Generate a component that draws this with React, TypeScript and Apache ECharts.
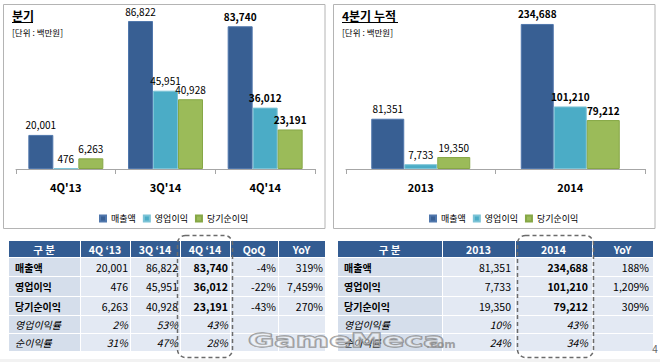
import React, { useEffect, useRef } from "react";
import * as echarts from "echarts";

// ---------- data ----------
const quarterCats = ["4Q'13", "3Q'14", "4Q'14"];
const yearCats = ["2013", "2014"];
const seriesNames = ["매출액", "영업이익", "당기순이익"];

const revenueQ = [20001, 86822, 83740];
const opProfitQ = [476, 45951, 36012];
const netProfitQ = [6263, 40928, 23191];
const qoqPct = [-4, -22, -43];
const yoyPctQ = [319, 7459, 270];
const opMarginQ = [2, 53, 43];
const netMarginQ = [31, 47, 28];

const revenueY = [81351, 234688];
const opProfitY = [7733, 101210];
const netProfitY = [19350, 79212];
const yoyPctY = [188, 1209, 309];
const opMarginY = [10, 43];
const netMarginY = [24, 34];

const quarterHeader = ["구 분", "4Q ‘13", "3Q ‘14", "4Q ‘14", "QoQ", "YoY"];
const yearHeader = ["구 분", "2013", "2014", "YoY"];
const marginNames = ["영업이익률", "순이익률"];

const titleQ = "분기";
const titleY = "4분기 누적";
const unitText = "[단위 : 백만원]";

// ---------- styles ----------
const FONT = '"Noto Sans CJK KR", "Noto Sans", sans-serif';
const BAR_COLORS = ["#385F93", "#4BACC6", "#9BBB59"];
const BAR_BORDERS = ["#5077AC", "#7CC3D6", "#86A746"];
const HEADER_BG = "#335C92";
const COL0_BG = "#D5DEEB";
const CELL_BG = "#E3E9F3";

const fmt = (n: number) => n.toLocaleString("en-US");
const pct = (n: number) => fmt(n) + "%";

type Row = { cells: string[]; italic: boolean };

function tableGraphics(
  colX: number[],
  rowY: number[],
  header: string[],
  rows: Row[],
  boldCol: number,
  pad: number
) {
  const els: any[] = [];
  header.forEach((h, c) => {
    els.push({
      type: "rect",
      shape: { x: colX[c] + 1, y: rowY[0], width: colX[c + 1] - colX[c] - 1, height: rowY[1] - rowY[0] - 1 },
      style: { fill: HEADER_BG },
    });
    els.push({
      type: "text",
      style: {
        text: h,
        x: (colX[c] + colX[c + 1]) / 2,
        y: (rowY[0] + rowY[1]) / 2,
        align: "center",
        verticalAlign: "middle",
        fill: "#fff",
        fontWeight: "bold",
        fontSize: 10.5,
        fontFamily: FONT,
      },
    });
  });
  rows.forEach((row, r) => {
    const y0 = rowY[r + 1];
    const y1 = rowY[r + 2];
    row.cells.forEach((cell, c) => {
      els.push({
        type: "rect",
        shape: { x: colX[c] + 1, y: y0, width: colX[c + 1] - colX[c] - 1, height: y1 - y0 - 1 },
        style: { fill: c === 0 ? COL0_BG : CELL_BG },
      });
      if (!cell) return;
      const bold = !row.italic && (c === 0 || c === boldCol);
      els.push({
        type: "text",
        style: {
          text: cell,
          x: c === 0 ? colX[c] + 7 : colX[c + 1] - pad,
          y: (y0 + y1) / 2 - 0.5,
          align: c === 0 ? "left" : "right",
          verticalAlign: "middle",
          fill: "#000",
          fontWeight: bold ? "bold" : "normal",
          fontStyle: row.italic ? "italic" : "normal",
          fontSize: c === 0 ? 10 : 10.5,
          fontFamily: FONT,
        },
      });
    });
  });
  return els;
}

function barSeries(
  name: string,
  values: number[],
  idx: number,
  axisIdx: number,
  boldIdx: number,
  barWidth: number
) {
  return {
    type: "bar",
    name,
    xAxisIndex: axisIdx,
    yAxisIndex: axisIdx,
    barWidth,
    barGap: "0%",
    itemStyle: { color: BAR_COLORS[idx], borderColor: BAR_BORDERS[idx], borderWidth: 1 },
    label: {
      show: true,
      position: "top",
      distance: 5,
      fontSize: 10,
      fontFamily: FONT,
      color: "#000",
      formatter: (p: any) => fmt(p.value),
    },
    data: values.map((v, i) => ({
      value: v,
      label: { fontWeight: i === boldIdx ? "bold" : "normal" },
    })),
  };
}

function panelGraphics(x: number, title: string, underlineW: number) {
  return [
    {
      type: "rect",
      shape: { x: x + 0.5, y: 4.5, width: 321.5, height: 224 },
      style: { fill: "#fff", stroke: "#B4B4B4", lineWidth: 1 },
      z: -10,
    },
    {
      type: "text",
      style: {
        text: title,
        x: x + 9,
        y: 15,
        verticalAlign: "middle",
        fill: "#000",
        fontWeight: "bold",
        fontSize: 12,
        fontFamily: FONT,
      },
    },
    {
      type: "line",
      shape: { x1: x + 9, y1: 22.5, x2: x + 9 + underlineW, y2: 22.5 },
      style: { stroke: "#000", lineWidth: 1 },
    },
    {
      type: "text",
      style: {
        text: unitText,
        x: x + 9,
        y: 32,
        verticalAlign: "middle",
        fill: "#000",
        fontSize: 8.5,
        fontFamily: FONT,
      },
    },
  ];
}

export default function App() {
  const ref = useRef<HTMLDivElement>(null);
  useEffect(() => {
    if (!ref.current) return;
    const chart = echarts.init(ref.current, null, { renderer: "svg" });

    const rowsQ: Row[] = [
      { cells: [seriesNames[0], ...revenueQ.map(fmt), pct(qoqPct[0]), pct(yoyPctQ[0])], italic: false },
      { cells: [seriesNames[1], ...opProfitQ.map(fmt), pct(qoqPct[1]), pct(yoyPctQ[1])], italic: false },
      { cells: [seriesNames[2], ...netProfitQ.map(fmt), pct(qoqPct[2]), pct(yoyPctQ[2])], italic: false },
      { cells: [marginNames[0], ...opMarginQ.map(pct), "", ""], italic: true },
      { cells: [marginNames[1], ...netMarginQ.map(pct), "", ""], italic: true },
    ];
    const rowsY: Row[] = [
      { cells: [seriesNames[0], ...revenueY.map(fmt), pct(yoyPctY[0])], italic: false },
      { cells: [seriesNames[1], ...opProfitY.map(fmt), pct(yoyPctY[1])], italic: false },
      { cells: [seriesNames[2], ...netProfitY.map(fmt), pct(yoyPctY[2])], italic: false },
      { cells: [marginNames[0], ...opMarginY.map(pct), ""], italic: true },
      { cells: [marginNames[1], ...netMarginY.map(pct), ""], italic: true },
    ];
    const rowYs = [241, 258, 277, 297, 316, 334, 352];

    const axisCommon = {
      type: "category",
      axisLine: { lineStyle: { color: "#A6A6A6", width: 1 } },
      axisTick: { show: true, length: 5, lineStyle: { color: "#A6A6A6" } },
      axisLabel: { fontWeight: "bold", fontSize: 11, color: "#000", margin: 12, fontFamily: FONT },
    };
    const legendCommon = {
      top: 209,
      itemWidth: 6,
      itemHeight: 6,
      itemGap: 7,
      icon: "rect",
      selectedMode: false,
      textStyle: { fontSize: 9, color: "#000", fontFamily: FONT },
      data: seriesNames,
    };

    chart.setOption({
      animation: false,
      backgroundColor: "#fff",
      textStyle: { fontFamily: FONT },
      grid: [
        { left: 16, width: 299, top: 15.6, height: 153.4, containLabel: false },
        { left: 346, width: 299, top: 14.5, height: 154.5, containLabel: false },
      ],
      xAxis: [
        { ...axisCommon, gridIndex: 0, data: quarterCats },
        { ...axisCommon, gridIndex: 1, data: yearCats },
      ],
      yAxis: [
        { type: "value", gridIndex: 0, min: 0, max: 90000, show: false },
        { type: "value", gridIndex: 1, min: 0, max: 250000, show: false },
      ],
      legend: [
        { ...legendCommon, left: 94 },
        { ...legendCommon, left: 424 },
      ],
      series: [
        barSeries(seriesNames[0], revenueQ, 0, 0, 2, 25),
        barSeries(seriesNames[1], opProfitQ, 1, 0, 2, 25),
        barSeries(seriesNames[2], netProfitQ, 2, 0, 2, 25),
        barSeries(seriesNames[0], revenueY, 0, 1, 1, 33),
        barSeries(seriesNames[1], opProfitY, 1, 1, 1, 33),
        barSeries(seriesNames[2], netProfitY, 2, 1, 1, 33),
      ],
      graphic: [
        ...panelGraphics(3, titleQ, 21),
        ...panelGraphics(333, titleY, 56),
        ...tableGraphics([8, 80, 130, 180, 230, 278, 325], rowYs, quarterHeader, rowsQ, 3, 2),
        ...tableGraphics([337, 442, 515, 592, 653], rowYs, yearHeader, rowsY, 2, 4),
        {
          type: "rect",
          shape: { x: 177.5, y: 235.5, width: 55, height: 122, r: 8 },
          style: { fill: "none", stroke: "#6B6B6B", lineWidth: 1.5, lineDash: [4, 3] },
          z: 50,
        },
        {
          type: "rect",
          shape: { x: 517.5, y: 235.5, width: 76, height: 122, r: 8 },
          style: { fill: "none", stroke: "#6B6B6B", lineWidth: 1.5, lineDash: [4, 3] },
          z: 50,
        },
        {
          type: "text",
          x: 248,
          y: 340,
          scaleX: 1.6,
          style: {
            text: "GameMeca",
            x: 0,
            y: 0,
            verticalAlign: "middle",
            fontSize: 20,
            fontWeight: "bold",
            fontFamily: "DejaVu Sans",
            fill: "rgba(255,255,255,0.35)",
            stroke: "rgba(120,120,120,0.75)",
            lineWidth: 1.3,
          },
          z: 60,
        },
        {
          type: "text",
          style: {
            text: ".com",
            x: 426,
            y: 344,
            verticalAlign: "middle",
            fontSize: 11,
            fontWeight: "bold",
            fontFamily: "DejaVu Sans",
            fill: "rgba(140,140,140,0.8)",
          },
          z: 60,
        },
        {
          type: "text",
          style: {
            text: "4",
            x: 655,
            y: 348,
            align: "center",
            verticalAlign: "middle",
            fontSize: 10,
            fontFamily: FONT,
            fill: "#666",
          },
        },
        {
          type: "rect",
          shape: { x: 0, y: 359, width: 660, height: 3 },
          style: { fill: "#F2F2F2" },
        },
      ],
    });
    return () => chart.dispose();
  }, []);
  return (
    <div
      ref={ref}
      style={{ position: "fixed", left: 0, top: 0, width: 660, height: 362 }}
    />
  );
}
